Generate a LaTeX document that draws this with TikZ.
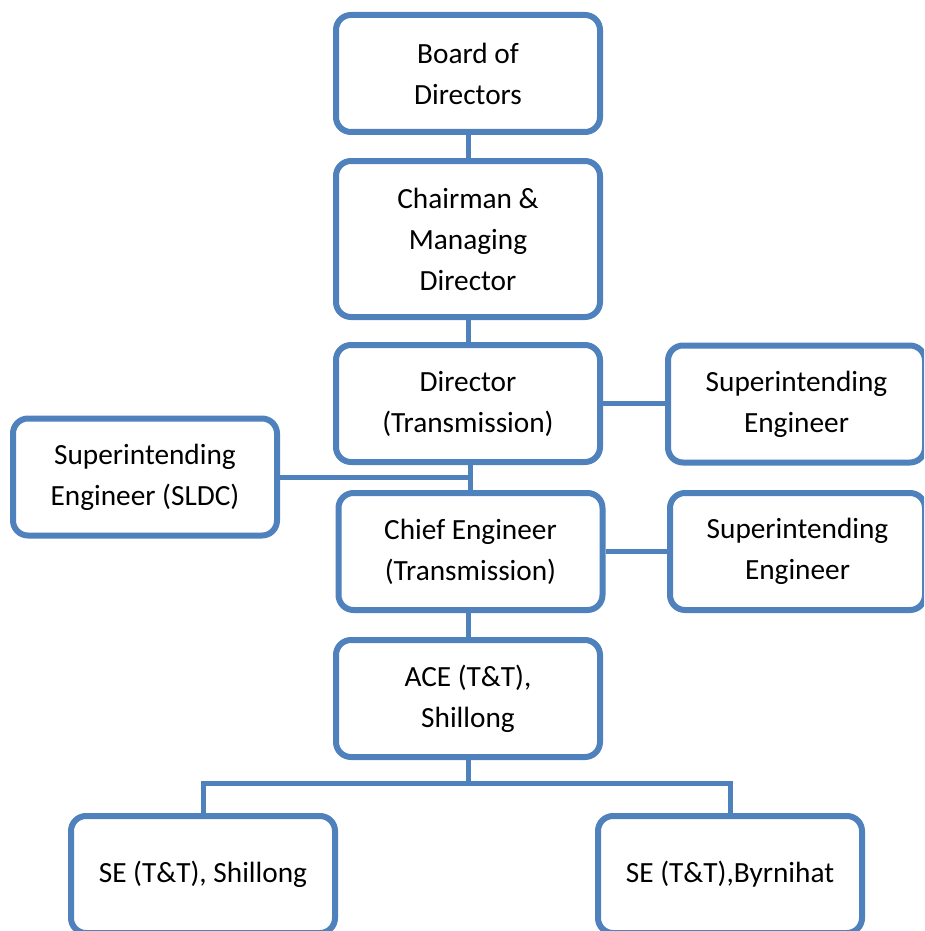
\documentclass[tikz,border=0pt]{standalone}
\usepackage{fontspec}
\setmainfont{Carlito}
\usetikzlibrary{positioning}

\definecolor{orgblue}{HTML}{4F81BD}

\tikzset{
  unit/.style={draw=orgblue, line width=6pt, rounded corners=15pt, fill=white,
    align=center, inner sep=0pt, minimum width=264pt, minimum height=117pt,
    font=\fontsize{29.3}{41}\selectfont},
  link/.style={draw=orgblue, line width=5pt}
}

\begin{document}
\begin{tikzpicture}[x=1pt, y=-1pt]
  \clip (0,0) rectangle (924,931);
  \fill[white] (0,0) rectangle (924,931);

  % main chain
  \node[unit] (board) at (468,73.5) {Board of\\Directors};
  \node[unit, minimum height=156pt] (chair) at (468,239) {Chairman \&\\Managing\\Director};
  \node[unit] (dir) at (468,403.5) {Director\\(Transmission)};
  \node[unit] (ce) at (470.5,551.5) {Chief Engineer\\(Transmission)};
  \node[unit] (ace) at (468,698.5) {ACE (T\&T),\\Shillong};

  % side boxes
  \node[unit, minimum width=257pt] (seone) at (796.5,404) {Superintending\\Engineer};
  \node[unit, minimum width=255pt] (setwo) at (797.5,551.5) {Superintending\\Engineer};
  \node[unit] (sldc) at (145,477) {Superintending\\Engineer (SLDC)};

  % field offices
  \node[unit] (seshl) at (203,874.5) {SE (T\&T), Shillong};
  \node[unit] (sebyr) at (730,874.5) {SE (T\&T),Byrnihat};

  \coordinate (bus) at (468,783);

  \draw[link] (board.south) -- (chair.north);
  \draw[link] (chair.south) -- (dir.north);
  \draw[link] (dir.south -| ce.north) -- (ce.north);
  \draw[link] (sldc.east) -- (sldc.east -| ce.north);
  \draw[link] (dir.east) -- (dir.east -| seone.west);
  \draw[link] (ce.east) -- (ce.east -| setwo.west);
  \draw[link] (ce.south -| ace.north) -- (ace.north);
  \draw[link] (ace.south) -- (bus);
  \draw[link] (seshl.north) |- (bus) -| (sebyr.north);
\end{tikzpicture}
\end{document}
